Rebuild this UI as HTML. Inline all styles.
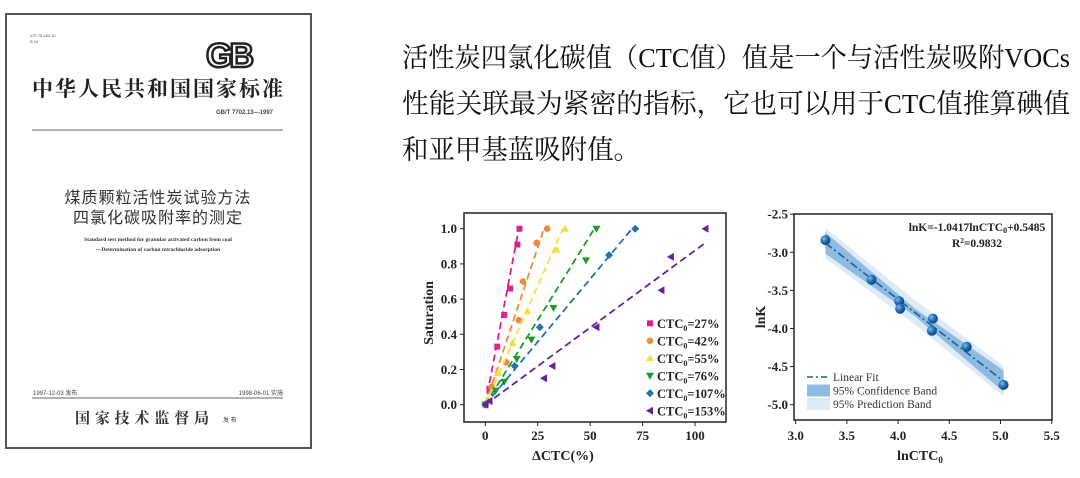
<!DOCTYPE html>
<html><head><meta charset="utf-8"><style>
html,body{margin:0;padding:0;background:#fff;}
svg{display:block;}
.serif{font-family:"Liberation Serif","Noto Serif CJK SC",serif;}
.sans{font-family:"Liberation Sans","Noto Sans CJK SC",sans-serif;}
</style></head><body>
<svg id="root" width="1080" height="478" viewBox="0 0 1080 478" xmlns="http://www.w3.org/2000/svg">
<defs>
<radialGradient id="ball" cx="0.35" cy="0.35" r="0.7"><stop offset="0" stop-color="#7fc0ef"/><stop offset="0.5" stop-color="#1f6fb5"/><stop offset="1" stop-color="#0c3f73"/></radialGradient>
</defs>
<!-- standard document cover -->
<g>
<rect x="6" y="14" width="305" height="434" fill="#fff" stroke="#555" stroke-width="2"/>
<text x="30" y="37" font-size="4" class="sans" fill="#555">ICS 75.160.10</text>
<text x="30" y="43" font-size="4" class="sans" fill="#555">B 24</text>
<text x="206" y="67" font-size="34" font-weight="bold" class="sans" fill="#fff" stroke="#222" stroke-width="2.5" letter-spacing="-3">GB</text>
<text x="32" y="96" font-size="21" font-weight="bold" class="serif" fill="#222" textLength="251" lengthAdjust="spacing">中华人民共和国国家标准</text>
<text x="273" y="114" font-size="6" font-weight="bold" class="sans" fill="#444" text-anchor="end">GB/T 7702.13—1997</text>
<line x1="32" y1="130" x2="283" y2="130" stroke="#666" stroke-width="1"/>
<text x="158" y="203" font-size="16" class="sans" fill="#333" text-anchor="middle" letter-spacing="1">煤质颗粒活性炭试验方法</text>
<text x="158" y="223" font-size="16" class="sans" fill="#333" text-anchor="middle" letter-spacing="1">四氯化碳吸附率的测定</text>
<text x="158" y="241" font-size="5.6" font-weight="bold" class="serif" fill="#333" text-anchor="middle">Standard test method for granular activated carbon from coal</text>
<text x="158" y="251" font-size="5.6" font-weight="bold" class="serif" fill="#333" text-anchor="middle">—Determination of carbon tetrachloride adsorption</text>
<text x="33" y="395" font-size="6" class="sans" fill="#444">1997-12-03 发布</text>
<text x="283" y="395" font-size="6" class="sans" fill="#444" text-anchor="end">1998-06-01 实施</text>
<line x1="32" y1="398" x2="283" y2="398" stroke="#666" stroke-width="1"/>
<text x="75" y="423" font-size="15" font-weight="bold" class="serif" fill="#333" textLength="134" lengthAdjust="spacing">国家技术监督局</text>
<text x="223" y="422" font-size="6" class="sans" fill="#333">发 布</text>
</g>
<!-- paragraph -->
<g class="serif" font-size="27" fill="#111">
<text x="402" y="67" textLength="668" lengthAdjust="spacingAndGlyphs">活性炭四氯化碳值（CTC值）值是一个与活性炭吸附VOCs</text>
<text x="402" y="113" textLength="668" lengthAdjust="spacingAndGlyphs">性能关联最为紧密的指标，它也可以用于CTC值推算碘值</text>
<text x="402" y="159" textLength="238" lengthAdjust="spacingAndGlyphs">和亚甲基蓝吸附值。</text>
</g>
<g id="chart1"></g>
<g id="chart2"></g>
</svg>
<script>
// ---- Chart 1 data ----
const c1Labels = ["27%","42%","55%","76%","107%","153%"];
const c1X = [
 [0,2,5.7,9,11.8,15.3,16.3],
 [0,3,10,16,18,24.5,29.5],
 [0,1,6,13,20,34,38],
 [0,5,9,15,22,32.5,48,53],
 [0,14,26,59,71.5],
 [0,2,28,32,53,84,88.5,105]
];
const c1Y = [
 [0,0.09,0.33,0.51,0.66,0.91,1.0],
 [0,0.10,0.24,0.48,0.70,0.92,1.0],
 [0,0.03,0.18,0.35,0.53,0.88,1.0],
 [0,0.08,0.13,0.26,0.37,0.55,0.82,1.0],
 [0,0.22,0.44,0.85,1.0],
 [0,0.02,0.15,0.22,0.44,0.65,0.84,1.0]
];
const c1FitEnd = [16,28,37,52,70,105];
const c1FitEndY = [1.0,1.0,1.0,1.0,1.0,0.92];
const c1XTicks = [0,25,50,75,100];
const c1YTicks = [0.0,0.2,0.4,0.6,0.8,1.0];
// ---- Chart 2 data ----
const c2X = [3.29,3.74,4.01,4.02,4.34,4.33,4.67,5.03];
const c2Y = [-2.84,-3.36,-3.64,-3.74,-3.87,-4.03,-4.24,-4.74];
const c2Slope = -1.0417, c2Intercept = 0.5485;
const c2BandX = [3.29,4.16,5.03];
const c2ConfHalf = [0.14,0.05,0.14];
const c2PredHalf = [0.2,0.16,0.2];
const c2XTicks = [3.0,3.5,4.0,4.5,5.0,5.5];
const c2YTicks = [-2.5,-3.0,-3.5,-4.0,-4.5,-5.0];

const NS="http://www.w3.org/2000/svg";
function mk(tag, attrs, parent, txt){const e=document.createElementNS(NS,tag);for(const k in attrs)e.setAttribute(k,attrs[k]);if(txt!==undefined)e.textContent=txt;parent.appendChild(e);return e;}

// chart1
(function(){
 const g=document.getElementById('chart1');
 const x=v=>485.3+v*2.097, y=v=>404.7-v*176;
 const colors=["#e0218a","#f08a3c","#f2e040","#1e9a2a","#1f73b4","#6a1f9a"];
 const F='"Liberation Serif",serif';
 const frame=mk('rect',{x:464,y:213,width:262,height:209,fill:'none',stroke:'#222','stroke-width':1.5},g);
 
 
 c1XTicks.forEach(t=>{
  const tl=mk('line',{x1:x(t),y1:422,x2:x(t),y2:426,stroke:'#222'},g);
  const lb=mk('text',{x:x(t),y:440,'text-anchor':'middle','font-size':13,'font-weight':'bold','font-family':F,fill:'#222'},g,String(t));
  
  
 });
 c1YTicks.forEach(t=>{
  mk('line',{x1:460,y1:y(t),x2:464,y2:y(t),stroke:'#222'},g);
  const lb=mk('text',{x:457,y:y(t)+4.5,'text-anchor':'end','font-size':13,'font-weight':'bold','font-family':F,fill:'#222'},g,t.toFixed(1));
  
  
 });
 const yt=mk('text',{x:0,y:0,transform:'translate(433,313) rotate(-90)','text-anchor':'middle','font-size':14,'font-weight':'bold','font-family':F,fill:'#222'},g,'Saturation');
 
 
 const xt=mk('text',{x:563,y:460,'text-anchor':'middle','font-size':14,'font-weight':'bold','font-family':F,fill:'#222'},g,'ΔCTC(%)');
 
 
 function marker(i,cx,cy,par){
  const c=colors[i];let e;
  if(i===0)e=mk('rect',{x:cx-3,y:cy-3,width:6,height:6,fill:c},par);
  else if(i===1)e=mk('circle',{cx:cx,cy:cy,r:3.3,fill:c},par);
  else if(i===2)e=mk('polygon',{points:`${cx},${cy-4} ${cx-4},${cy+3} ${cx+4},${cy+3}`,fill:c},par);
  else if(i===3)e=mk('polygon',{points:`${cx},${cy+4} ${cx-4},${cy-3} ${cx+4},${cy-3}`,fill:c},par);
  else if(i===4)e=mk('polygon',{points:`${cx},${cy-4} ${cx+4},${cy} ${cx},${cy+4} ${cx-4},${cy}`,fill:c},par);
  else e=mk('polygon',{points:`${cx-4},${cy} ${cx+3},${cy-4} ${cx+3},${cy+4}`,fill:c},par);
  return e;
 }
 c1Labels.forEach((lab,i)=>{
  const fl=mk('line',{x1:x(0),y1:y(0),x2:x(c1FitEnd[i]),y2:y(c1FitEndY[i]),stroke:colors[i],'stroke-width':1.8,'stroke-dasharray':'7,4'},g);
  
  
  c1X[i].forEach((v,j)=>{
   const m=marker(i,x(v),y(c1Y[i][j]),g);
   
   
  });
  const ly=323.3+i*17.5;
  const lm=marker(i,650,ly,g);
  
  
  const t=mk('text',{x:657,y:ly+4.5,'font-size':12.5,'font-weight':'bold','font-family':F,fill:'#222'},g);
  
  
  mk('tspan',{},t,'CTC');
  mk('tspan',{'font-size':8,dy:3},t,'0');
  mk('tspan',{dy:-3},t,'='+lab);
 });
})();

// chart2
(function(){
 const g=document.getElementById('chart2');
 const x=v=>795.7+(v-3)*102.4, y=v=>214.2-(v+2.5)*76.2;
 const F='"Liberation Serif",serif';
 const fit=v=>c2Slope*v+c2Intercept;
 function band(h,fill,name){
  const up=c2BandX.map((v,i)=>x(v)+','+y(fit(v)+h[i]));
  const dn=c2BandX.map((v,i)=>x(v)+','+y(fit(v)-h[i])).reverse();
  const p=mk('polygon',{points:up.concat(dn).join(' '),fill:fill},g);
  
  
 }
 band(c2PredHalf,'#deebf7','prediction-band');
 band(c2ConfHalf,'#8fbbe3','confidence-band');
 const fl=mk('line',{x1:x(c2X[0]),y1:y(fit(c2X[0])),x2:x(c2X[c2X.length-1]),y2:y(fit(c2X[c2X.length-1])),stroke:'#1f5f96','stroke-width':1.6,'stroke-dasharray':'8,3,2,3'},g);
 
 
 c2X.forEach((v,i)=>{
  const c=mk('circle',{cx:x(v),cy:y(c2Y[i]),r:5,fill:'url(#ball)'},g);
  
  
 });
 const frame=mk('rect',{x:794,y:214,width:258,height:206,fill:'none',stroke:'#222','stroke-width':1.5},g);
 
 
 c2XTicks.forEach(t=>{
  mk('line',{x1:x(t),y1:420,x2:x(t),y2:424,stroke:'#222'},g);
  const lb=mk('text',{x:x(t),y:440,'text-anchor':'middle','font-size':13,'font-weight':'bold','font-family':F,fill:'#222'},g,t.toFixed(1));
  
  
 });
 c2YTicks.forEach(t=>{
  mk('line',{x1:790,y1:y(t),x2:794,y2:y(t),stroke:'#222'},g);
  const lb=mk('text',{x:788,y:y(t)+4.5,'text-anchor':'end','font-size':13,'font-weight':'bold','font-family':F,fill:'#222'},g,t.toFixed(1));
  
  
 });
 const yt=mk('text',{x:0,y:0,transform:'translate(765,317) rotate(-90)','text-anchor':'middle','font-size':14,'font-weight':'bold','font-family':F,fill:'#222'},g,'lnK');
 
 
 const xt=mk('text',{x:920,y:460,'text-anchor':'middle','font-size':14,'font-weight':'bold','font-family':F,fill:'#222'},g);
 
 
 mk('tspan',{},xt,'lnCTC');mk('tspan',{'font-size':9,dy:3},xt,'0');
 const eq=mk('text',{x:977,y:231,'text-anchor':'middle','font-size':11.5,'font-weight':'bold','font-family':F,fill:'#222'},g);
 
 
 mk('tspan',{},eq,'lnK=-1.0417lnCTC');mk('tspan',{'font-size':8,dy:2},eq,'0');mk('tspan',{dy:-2},eq,'+0.5485');
 const r2=mk('text',{x:977,y:247,'text-anchor':'middle','font-size':11.5,'font-weight':'bold','font-family':F,fill:'#222'},g);
 
 
 mk('tspan',{},r2,'R');mk('tspan',{'font-size':7,dy:-4},r2,'2');mk('tspan',{dy:4},r2,'=0.9832');
 const legend=[['line','Linear Fit'],['#8fbbe3','95% Confidence Band'],['#deebf7','95% Prediction Band']];
 legend.forEach((it,i)=>{
  const ly=377+i*13.5;
  if(it[0]==='line'){
   mk('line',{x1:807,y1:ly,x2:830,y2:ly,stroke:'#1f5f96','stroke-width':1.6,'stroke-dasharray':'6,3,2,3'},g);
  } else {
   mk('rect',{x:807,y:ly-6,width:23,height:12,fill:it[0]},g);
  }
  const t=mk('text',{x:833,y:ly+4,'font-size':11.5,'font-family':F,fill:'#333'},g,it[1]);
  
  
 });
})();
</script>
</body></html>
